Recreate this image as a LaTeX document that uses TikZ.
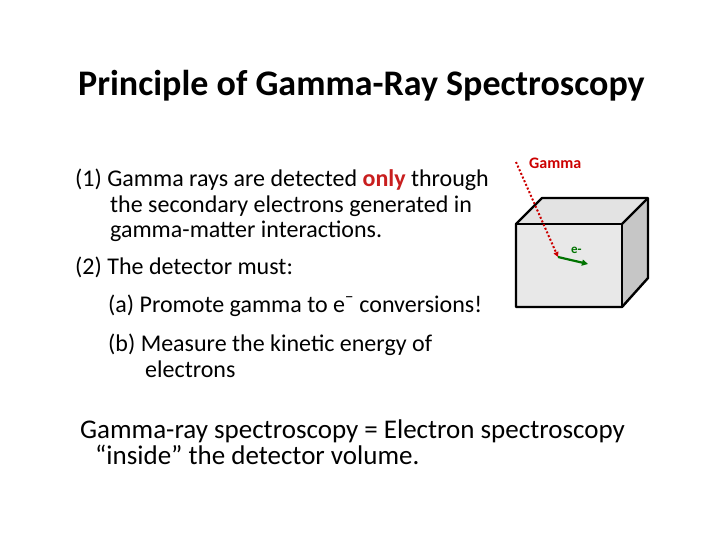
\documentclass[tikz,border=0pt]{standalone}
\usepackage{fontspec}
\setmainfont{Carlito}
\usetikzlibrary{arrows.meta}
\begin{document}
\begin{tikzpicture}[x=1pt,y=-1pt,
  txt/.style={anchor=base west,inner sep=0pt,font=\fontsize{24}{28}\selectfont},
  big/.style={anchor=base west,inner sep=0pt,font=\fontsize{27}{32}\selectfont},
  edge/.style={line width=2.4pt,line join=round}]
\useasboundingbox (0,0) rectangle (720,540);
\node[anchor=base west,inner sep=0pt,font=\fontsize{36}{40}\selectfont\bfseries] (title) at (78,96) {Principle of Gamma-Ray Spectroscopy};
\node[txt] (l1) at (75,187) {(1)\ Gamma rays are detected \textcolor[RGB]{200,30,30}{\bfseries only} through};
\node[txt] (l2) at (110,212) {the secondary electrons generated in};
\node[txt] (l3) at (110,237) {gamma-matter interactions.};
\node[txt] (l4) at (75,274) {(2)\ The detector must:};
\node[txt] (l5) at (108,312) {(a) Promote gamma to e\textsuperscript{−} conversions!};
\node[txt] (l6) at (108,351) {(b) Measure the kinetic energy of};
\node[txt] (l7) at (145,377) {electrons};
\node[big] (b1) at (80,438) {Gamma-ray spectroscopy = Electron spectroscopy};
\node[big] (b2) at (95,464) {“inside” the detector volume.};
% cube
\fill[gray!22] (516,224) -- (542,198) -- (648,198) -- (622,224) -- cycle;
\fill[gray!45] (622,224) -- (648,198) -- (648,278) -- (622,307) -- cycle;
\fill[gray!18] (516,224) rectangle (622,307);
\draw[edge] (516,224) -- (542,198) -- (648,198) -- (648,278) -- (622,307) -- (516,307) -- cycle;
\draw[edge] (516,224) -- (622,224) -- (622,307);
\draw[edge] (622,224) -- (648,198);
\coordinate (g0) at (516,162);
\coordinate (hit) at (558,257);
\coordinate (e1) at (588,264);
\draw[red!80!black,line width=2pt,dotted,-{Triangle[length=5pt,width=5pt]}] (g0) -- (hit);
\draw[green!45!black,line width=2.2pt,-{Triangle[length=6pt,width=6pt]}] (hit) -- (e1);
\node[anchor=base west,inner sep=0pt,font=\fontsize{16}{18}\selectfont\bfseries,text=red!80!black] (gl) at (529,169) {Gamma};
\node[anchor=base west,inner sep=0pt,font=\fontsize{13}{15}\selectfont\bfseries,text=green!45!black] (el) at (571,253) {e-};
\end{tikzpicture}
\end{document}
